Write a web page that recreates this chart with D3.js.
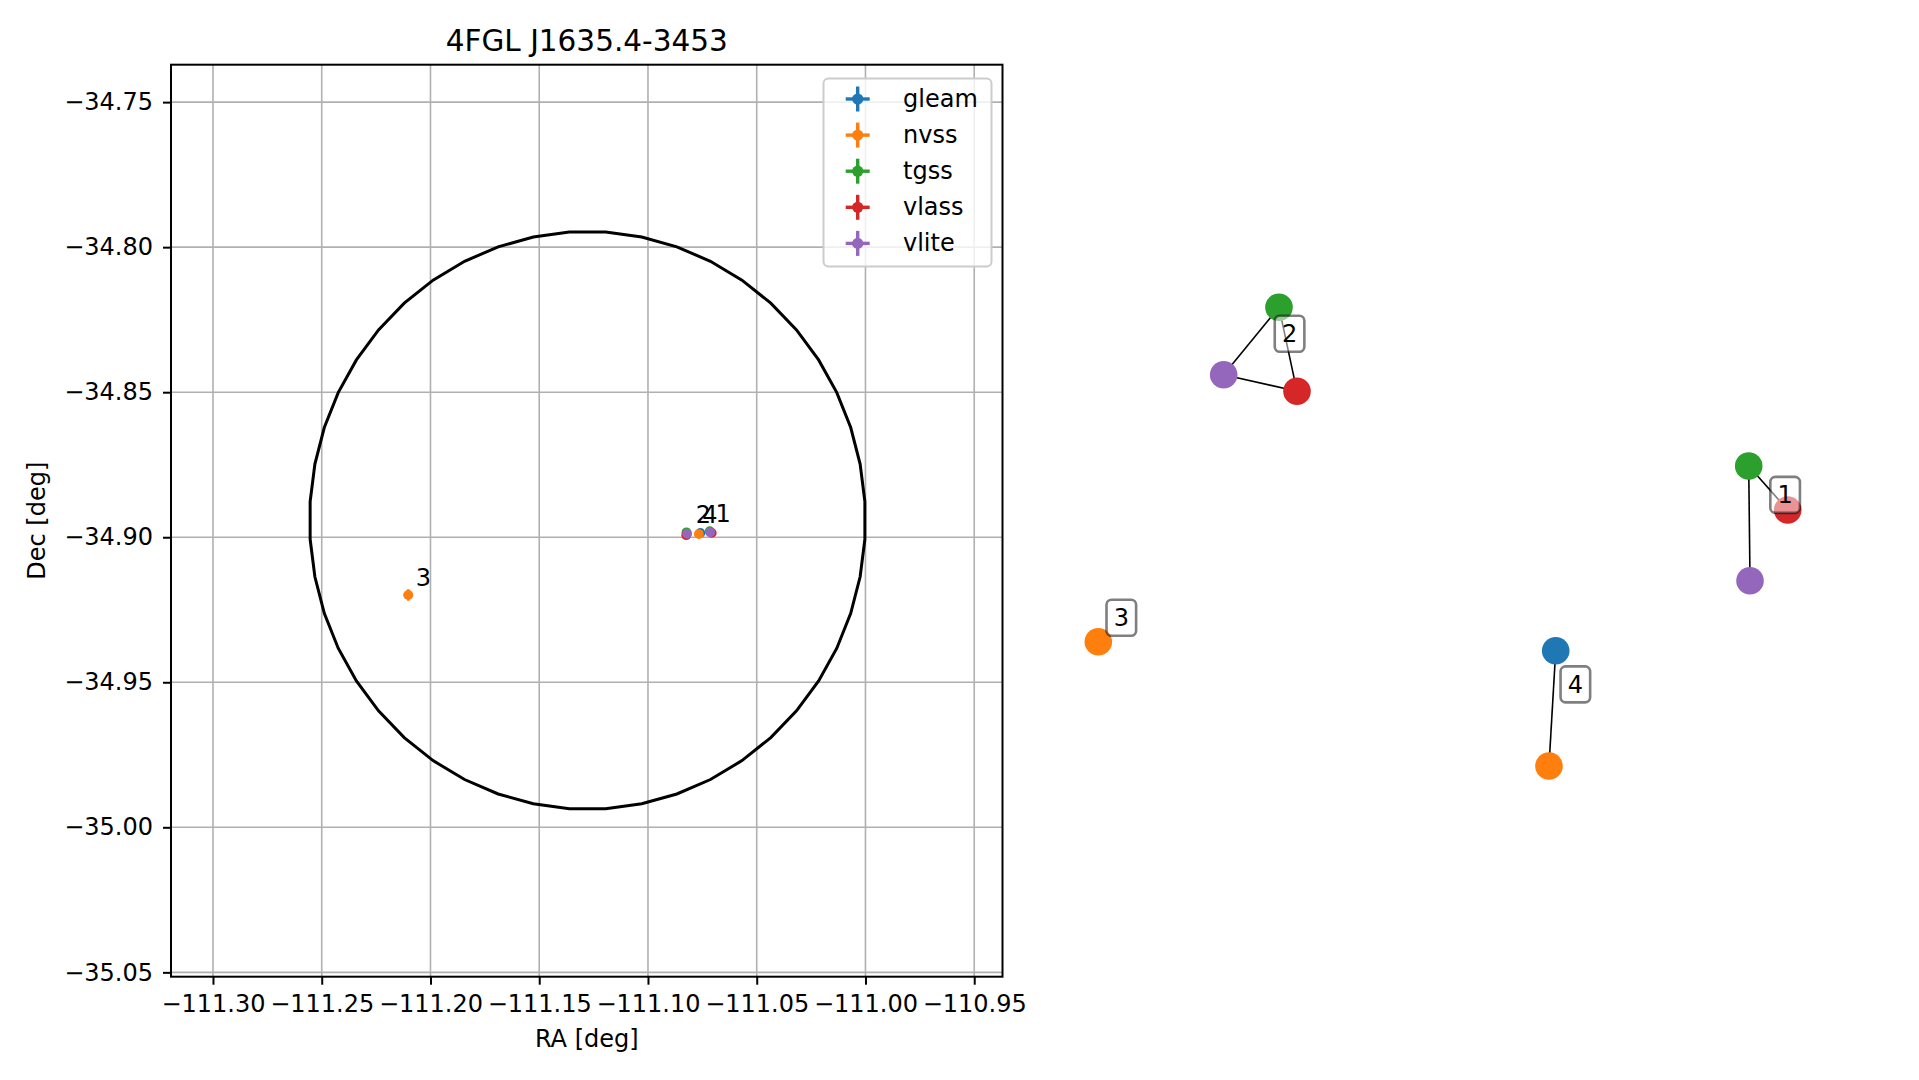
<!DOCTYPE html>
<html><head><meta charset="utf-8">
<script src="https://cdn.jsdelivr.net/npm/d3@7"></script>
<style>
body{margin:0;background:#fff;}
svg{display:block;font-family:"DejaVu Sans",sans-serif;}
</style>
</head><body>
<svg id="c" width="1919" height="1080"></svg>
<script>
// ---------- data ----------
const titleText = "4FGL J1635.4-3453";
const catalogs = ["gleam","nvss","tgss","vlass","vlite"];
const catalogColors = ["#1f77b4","#ff7f0e","#2ca02c","#d62728","#9467bd"];

// matched radio positions (left panel)
const ptSource  = ["2","2","2","4","4","1","1","1","3"];
const ptCatalog = ["tgss","vlass","vlite","gleam","nvss","tgss","vlass","vlite","nvss"];
const ptRA      = [-111.0823,-111.0824,-111.0820,-111.0759,-111.0766,-111.0716,-111.0707,-111.0714,-111.2102];
const ptDec     = [-34.8983,-34.8993,-34.8988,-34.8985,-34.8989,-34.8979,-34.8985,-34.8983,-34.9199];
const ptRAErr   = [0.0005,0.0001,0.0004,0.0010,0.0006,0.0005,0.0001,0.0004,0.0022];
const ptDecErr  = [0.0005,0.0001,0.0004,0.0010,0.0006,0.0005,0.0001,0.0004,0.0020];

// source number labels (left panel)
const labelText = ["1","2","3","4"];
const labelRA   = [-111.0689,-111.0780,-111.2068,-111.0751];
const labelDec  = [-34.8949,-34.8952,-34.9168,-34.8952];

// Fermi error region
const fermiRA = -111.1278, fermiDec = -34.8942;
const fermiSemiRA = 0.1278, fermiSemiDec = 0.0996, fermiVertices = 48;

// ticks
const xTicks = [-111.30,-111.25,-111.20,-111.15,-111.10,-111.05,-111.00,-110.95];
const yTicks = [-34.75,-34.80,-34.85,-34.90,-34.95,-35.00,-35.05];

// match graph (right panel), layout coordinates
const nodeSource  = ["2","2","2","1","1","1","3","4","4"];
const nodeCatalog = ["tgss","vlite","vlass","tgss","vlass","vlite","nvss","gleam","nvss"];
const nodeX = [-0.4754,-0.6357,-0.4232,0.8861,0.9991,0.8899,-0.9991,0.3267,0.3072];
const nodeY = [0.9987,0.7050,0.6327,0.3072,0.1155,-0.1926,-0.4584,-0.4976,-1.0];
const edgeFrom = [0,0,1,3,3,7];
const edgeTo   = [1,2,2,4,5,8];
const graphLabels = ["1","2","3","4"];

// ---------- drawing ----------
const svg = d3.select("#c");
const col = d3.scaleOrdinal().domain(catalogs).range(catalogColors);
const FS = 24;

const L = {left:171, right:1002.5, top:64.7, bottom:976.7};
const x = d3.scaleLinear().domain([-111.3193,-110.9370]).range([L.left,L.right]);
const y = d3.scaleLinear().domain([-34.7371,-35.0515]).range([L.top,L.bottom]);

svg.append("defs").append("clipPath").attr("id","clipL")
  .append("rect").attr("x",L.left).attr("y",L.top)
  .attr("width",L.right-L.left).attr("height",L.bottom-L.top);

// grid
const grid = svg.append("g").attr("stroke","#b0b0b0").attr("stroke-width",1.6);
grid.selectAll(".gx").data(xTicks).join("line")
  .attr("x1",d=>x(d)).attr("x2",d=>x(d)).attr("y1",L.top).attr("y2",L.bottom);
grid.selectAll(".gy").data(yTicks).join("line")
  .attr("y1",d=>y(d)).attr("y2",d=>y(d)).attr("x1",L.left).attr("x2",L.right);

const plot = svg.append("g").attr("clip-path","url(#clipL)");

// Fermi ellipse
const ellPts = d3.range(fermiVertices+1).map(i=>{
  const a = (i+0.5)/fermiVertices*2*Math.PI;
  return [fermiRA + fermiSemiRA*Math.cos(a), fermiDec + fermiSemiDec*Math.sin(a)];
});
plot.append("path").attr("d", d3.line().x(d=>x(d[0])).y(d=>y(d[1]))(ellPts))
  .attr("fill","none").attr("stroke","#000").attr("stroke-width",3);

// points by catalog
const idx = d3.range(ptRA.length);
catalogs.forEach(cat=>{
  const g = plot.append("g");
  const sel = idx.filter(i=>ptCatalog[i]===cat);
  sel.forEach(i=>{
    g.append("line").attr("x1",x(ptRA[i]-ptRAErr[i])).attr("x2",x(ptRA[i]+ptRAErr[i]))
      .attr("y1",y(ptDec[i])).attr("y2",y(ptDec[i])).attr("stroke",col(cat)).attr("stroke-width",2.6);
    g.append("line").attr("y1",y(ptDec[i]-ptDecErr[i])).attr("y2",y(ptDec[i]+ptDecErr[i]))
      .attr("x1",x(ptRA[i])).attr("x2",x(ptRA[i])).attr("stroke",col(cat)).attr("stroke-width",2.6);
    g.append("circle").attr("cx",x(ptRA[i])).attr("cy",y(ptDec[i])).attr("r",4.9).attr("fill",col(cat));
  });
});

// labels
svg.append("g").selectAll("text").data(labelText).join("text")
  .attr("x",(d,i)=>x(labelRA[i])).attr("y",(d,i)=>y(labelDec[i]))
  .attr("font-size",FS).attr("fill","#000").text(d=>d);

// axes
const xAxis = svg.append("g").attr("transform",`translate(0,${L.bottom})`)
  .call(d3.axisBottom(x).tickValues(xTicks).tickFormat(d3.format(".2f")).tickSize(8).tickPadding(10).tickSizeOuter(0));
const yAxis = svg.append("g").attr("transform",`translate(${L.left},0)`)
  .call(d3.axisLeft(y).tickValues(yTicks).tickFormat(d3.format(".2f")).tickSize(8).tickPadding(10).tickSizeOuter(0));
[xAxis,yAxis].forEach(a=>{
  a.select(".domain").remove();
  a.selectAll(".tick line").attr("stroke","#000").attr("stroke-width",2);
  a.selectAll(".tick text").attr("font-size",FS).attr("font-family","DejaVu Sans").attr("fill","#000");
});

// spines
svg.append("rect").attr("x",L.left).attr("y",L.top).attr("width",L.right-L.left).attr("height",L.bottom-L.top)
  .attr("fill","none").attr("stroke","#000").attr("stroke-width",2);

// titles
svg.append("text").attr("x",(L.left+L.right)/2).attr("y",51).attr("text-anchor","middle")
  .attr("font-size",29.5).text(titleText);
svg.append("text").attr("x",(L.left+L.right)/2).attr("y",1047).attr("text-anchor","middle")
  .attr("font-size",FS).text("RA [deg]");
svg.append("text").attr("transform",`translate(45,${(L.top+L.bottom)/2}) rotate(-90)`)
  .attr("text-anchor","middle").attr("font-size",FS).text("Dec [deg]");

// legend
const leg = svg.append("g");
leg.append("rect").attr("x",823.5).attr("y",78.5).attr("width",168).attr("height",188).attr("rx",5)
  .attr("fill","#fff").attr("fill-opacity",0.8).attr("stroke","#cccccc").attr("stroke-width",2);
catalogs.forEach((cat,i)=>{
  const cy = 99 + i*36.1, cx = 857.7;
  leg.append("line").attr("x1",cx-12).attr("x2",cx+12).attr("y1",cy).attr("y2",cy).attr("stroke",col(cat)).attr("stroke-width",3.4);
  leg.append("line").attr("x1",cx).attr("x2",cx).attr("y1",cy-12.5).attr("y2",cy+12.5).attr("stroke",col(cat)).attr("stroke-width",3.4);
  leg.append("circle").attr("cx",cx).attr("cy",cy).attr("r",5.6).attr("fill",col(cat));
  leg.append("text").attr("x",903).attr("y",cy+8).attr("font-size",FS).text(cat);
});

// ---------- right panel: match graph ----------
const rx = d3.scaleLinear().domain([-1,1]).range([1098,1788]);
const ry = d3.scaleLinear().domain([-1,1]).range([766,307]);
const R = svg.append("g");
R.selectAll("line").data(edgeFrom).join("line")
  .attr("x1",(d,i)=>rx(nodeX[edgeFrom[i]])).attr("y1",(d,i)=>ry(nodeY[edgeFrom[i]]))
  .attr("x2",(d,i)=>rx(nodeX[edgeTo[i]])).attr("y2",(d,i)=>ry(nodeY[edgeTo[i]]))
  .attr("stroke","#000").attr("stroke-width",1.6);
R.selectAll("circle").data(nodeX).join("circle")
  .attr("cx",(d,i)=>rx(nodeX[i])).attr("cy",(d,i)=>ry(nodeY[i])).attr("r",13.8)
  .attr("fill",(d,i)=>col(nodeCatalog[i]));
graphLabels.forEach(lab=>{
  const ids = d3.range(nodeX.length).filter(i=>nodeSource[i]===lab);
  const cx = d3.mean(ids,i=>rx(nodeX[i])) + 23;
  const cy = d3.mean(ids,i=>ry(nodeY[i])) - 24;
  R.append("rect").attr("x",cx-14.8).attr("y",cy-18).attr("width",29.6).attr("height",36).attr("rx",5)
    .attr("fill","#fff").attr("fill-opacity",0.5).attr("stroke","#000").attr("stroke-opacity",0.5).attr("stroke-width",2.6);
  R.append("text").attr("x",cx).attr("y",cy+8.5).attr("text-anchor","middle").attr("font-size",FS).text(lab);
});
</script>
</body></html>
